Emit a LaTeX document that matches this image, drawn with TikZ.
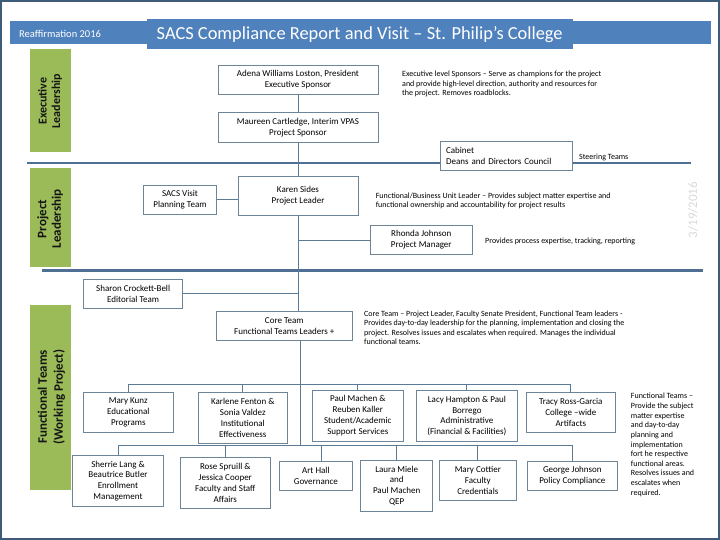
\documentclass[tikz,border=0pt]{standalone}
\usepackage{fontspec}
\setmainfont{Carlito}
\definecolor{titlec}{HTML}{4F81BD}
\definecolor{greenc}{HTML}{9BBB59}
\definecolor{sepc}{HTML}{4F6F94}
\definecolor{boxc}{HTML}{6E8598}
\definecolor{connc}{HTML}{5B7A96}
\definecolor{framec}{HTML}{3E5C78}
\definecolor{labc}{HTML}{151515}
\definecolor{datec}{HTML}{D9D9D9}
\begin{document}
\begin{tikzpicture}[x=1pt,y=-1pt,
  box/.style={draw=boxc, line width=0.8pt, fill=white, align=center, inner sep=0pt, font=\fontsize{9}{10.8}\selectfont},
  conn/.style={draw=connc, line width=0.9pt},
  sep/.style={draw=sepc, line width=2.2pt},
  desc/.style={align=left, inner sep=0pt, font=\fontsize{8}{9.5}\selectfont, anchor=north west},
  bandlabel/.style={rotate=90, align=center, text=labc, inner sep=0pt}]

\useasboundingbox (0,0) rectangle (720,540);
\draw[framec, line width=1.5pt] (1,1) rectangle (719,539);

% title band
\fill[titlec] (10,20.7) rectangle (711,44.3);
\node[fill=titlec, minimum width=425.5, minimum height=30, inner sep=0pt, text=white,
      font=\fontsize{18.4}{20}\selectfont] (title) at (359.75,34.3)
      {SACS Compliance Report and Visit – St. Philip’s College};
\node[anchor=west, inner sep=0pt, text=white, font=\fontsize{10.5}{12}\selectfont] (reaff) at (19,34)
      {Reaffirmation 2016};

% green bands
\fill[greenc] (30,49.5) rectangle (71,151.7);
\fill[greenc] (30,168) rectangle (71,267);
\fill[greenc] (30,305) rectangle (71,490);
\node[bandlabel, font=\bfseries\fontsize{12}{13.5}\selectfont] (lexec) at (50,101) {Executive\\Leadership};
\node[bandlabel, font=\bfseries\fontsize{13}{14.5}\selectfont] (lproj) at (50,219) {Project\\Leadership};
\node[bandlabel, font=\bfseries\fontsize{13}{16}\selectfont] (lfunc) at (51.5,397) {Functional Teams\\(Working Project)};

% date
\node[rotate=90, text=datec, inner sep=0pt, font=\fontsize{13}{13}\selectfont] (date) at (693,210) {3/19/2016};

% separators
\coordinate (s1a) at (26.6,163.3);
\coordinate (s1b) at (691,163.3);
\coordinate (s2a) at (42,270.5);
\coordinate (s2b) at (702.7,270.5);
\draw[sep] (s1a) -- (s1b);
\draw[sep] (s2a) -- (s2b);

% boxes
\node[box, minimum width=160, minimum height=29.3] (adena) at (298,79.7) {Adena Williams Loston, President\\Executive Sponsor};
\node[box, minimum width=160, minimum height=30] (maureen) at (298,127.3) {Maureen Cartledge, Interim VPAS\\Project Sponsor};
\node[box, align=left, text width=120.5, inner xsep=6pt, minimum height=29, font=\fontsize{9}{11}\selectfont] (cab) at (506.25,156) {Cabinet\\Deans and Directors Council};
\node[box, minimum width=72.6, minimum height=29.7] (sacs) at (180,199.85) {SACS Visit\\Planning Team};
\node[box, minimum width=120, minimum height=39] (karen) at (298,195.5) {Karen Sides\\Project Leader};
\node[box, minimum width=101.5, minimum height=28.6] (rhonda) at (421.25,240) {Rhonda Johnson\\Project Manager};
\node[box, minimum width=99, minimum height=29] (sharon) at (133.15,293.8) {Sharon Crockett-Bell\\Editorial Team};
\node[box, minimum width=136.6, minimum height=28.6] (core) at (284.3,326) {Core Team\\Functional Teams Leaders +};

\node[box, minimum width=90, minimum height=40] (mk) at (128.3,412.3) {Mary Kunz\\Educational\\Programs};
\node[box, minimum width=89, minimum height=51] (karlene) at (242.8,417.8) {Karlene Fenton \&\\Sonia Valdez\\Institutional\\Effectiveness};
\node[box, minimum width=91, minimum height=51] (paulm) at (357.8,415.5) {Paul Machen \&\\Reuben Kaller\\Student/Academic\\Support Services};
\node[box, minimum width=100.8, minimum height=50.8] (lacy) at (466.9,415.9) {Lacy Hampton \& Paul\\Borrego\\Administrative\\(Financial \& Facilities)};
\node[box, minimum width=89, minimum height=40] (tracy) at (570.8,412.3) {Tracy Ross-Garcia\\College –wide\\Artifacts};

\node[box, minimum width=90.6, minimum height=50.3] (sherrie) at (118,480.85) {Sherrie Lang \&\\Beautrice Butler\\Enrollment\\Management};
\node[box, minimum width=90, minimum height=51] (rose) at (225.3,482.8) {Rose Spruill \&\\Jessica Cooper\\Faculty and Staff\\Affairs};
\node[box, minimum width=73.7, minimum height=28.7] (art) at (315.85,475.65) {Art Hall\\Governance};
\node[box, minimum width=72, minimum height=51.7] (laura) at (396.7,485.85) {Laura Miele\\and\\Paul Machen\\QEP};
\node[box, minimum width=77.7, minimum height=40.7] (cottier) at (477.85,480.35) {Mary Cottier\\Faculty\\Credentials};
\node[box, minimum width=90.7, minimum height=29] (george) at (572.35,475.5) {George Johnson\\Policy Compliance};

% connectors
\draw[conn] (adena.south) -- (maureen.north);
\draw[conn] (maureen.south) -- (karen.north);
\draw[conn] (karen.south) -- (core.north -| karen.south);
\draw[conn] (sacs.east) -- (sacs.east -| karen.west);
\draw[conn] (rhonda.west) -- (rhonda.west -| karen.south);
\draw[conn] (sharon.east) -- (sharon.east -| karen.south);

\coordinate (vx) at (300,0);
\coordinate (ub) at (0,384.3);
\coordinate (lb) at (0,445);
\coordinate (artx) at (321.7,0);
\draw[conn] (core.south -| vx) -- (vx |- lb);
\draw[conn] (mk.north) -- (mk.north |- ub) -- (tracy.north |- ub) -- (tracy.north);
\draw[conn] (karlene.north) -- (karlene.north |- ub);
\draw[conn] (paulm.north) -- (paulm.north |- ub);
\draw[conn] (lacy.north) -- (lacy.north |- ub);
\draw[conn] (sherrie.north) -- (sherrie.north |- lb) -- (george.north |- lb) -- (george.north);
\draw[conn] (rose.north) -- (rose.north |- lb);
\draw[conn] (art.north -| artx) -- (artx |- lb);
\draw[conn] (laura.north) -- (laura.north |- lb);
\draw[conn] (cottier.north) -- (cottier.north |- lb);

% descriptions
\node[desc] (dexec) at (402,71) {Executive level Sponsors – Serve as champions for the project\\and provide high-level direction, authority and resources for\\the project.  Removes roadblocks.};
\node[anchor=west, inner sep=0pt, font=\fontsize{8}{9}\selectfont] (steer) at (579,157.3) {Steering Teams};
\node[desc] (dfunc) at (375.6,192.7) {Functional/Business Unit Leader – Provides subject matter expertise and\\functional ownership and accountability for project results};
\node[anchor=west, inner sep=0pt, font=\fontsize{8}{9}\selectfont] (dpm) at (485,241.7) {Provides process expertise, tracking,  reporting};
\node[desc] (dcore) at (364,310.3) {Core Team – Project Leader, Faculty Senate President, Functional Team leaders -\\Provides day-to-day leadership for the planning, implementation and closing the\\project.  Resolves issues and escalates when required.  Manages the individual\\functional teams.};
\node[desc, font=\fontsize{8}{9.65}\selectfont] (dteams) at (630.7,393) {Functional Teams –\\Provide the subject\\matter expertise\\and day-to-day\\planning and\\implementation\\fort he respective\\functional areas.\\Resolves issues and\\escalates when\\required.};
\end{tikzpicture}
\end{document}
